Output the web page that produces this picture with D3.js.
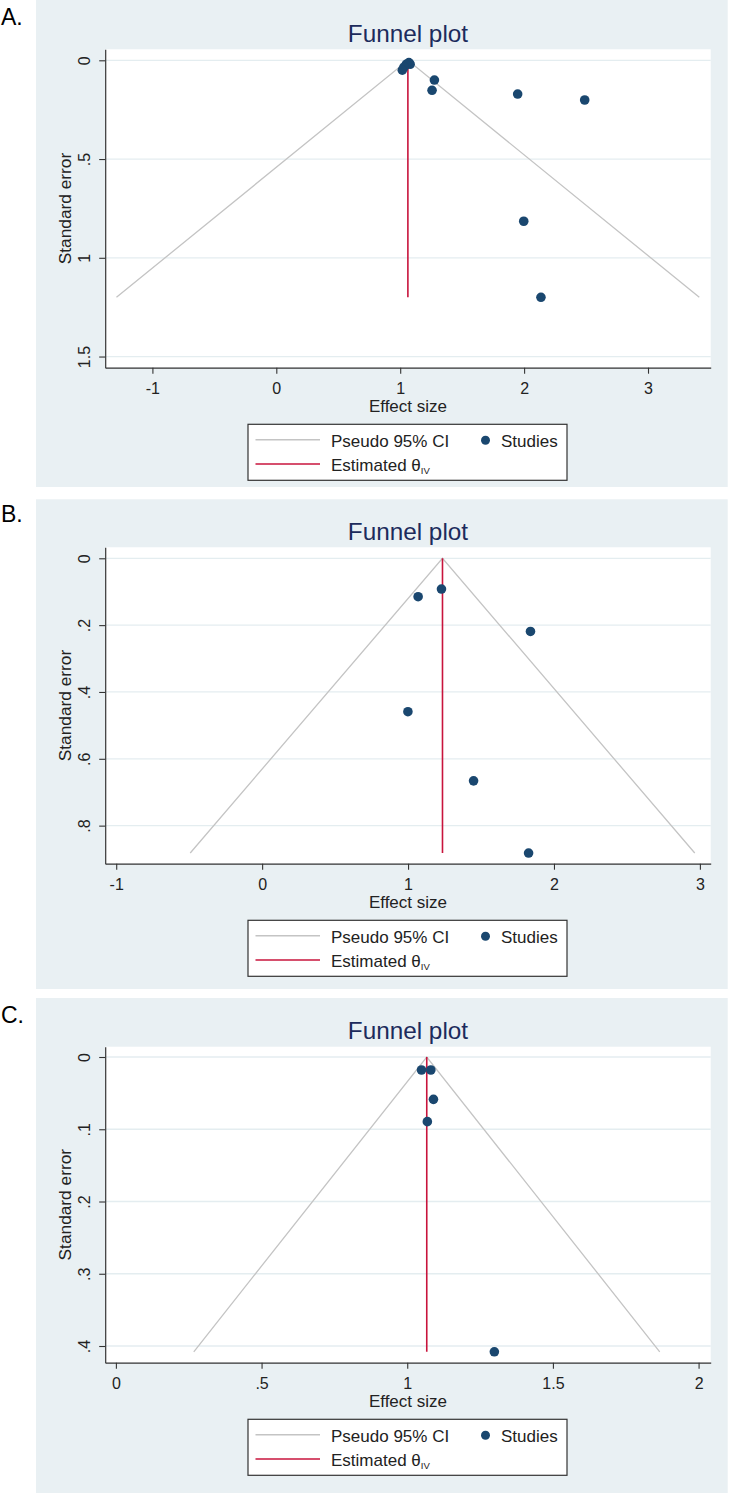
<!DOCTYPE html>
<html>
<head>
<meta charset="utf-8">
<script src="https://cdn.jsdelivr.net/npm/d3@7"></script>
<style>
  html, body { margin: 0; padding: 0; background: #ffffff; }
  svg { display: block; font-family: "Liberation Sans", Arial, sans-serif; }
</style>
</head>
<body>
<svg id="chart" width="729" height="1493"></svg>
<script>
// ---------------- data ----------------
const panelLetters = ["A.", "B.", "C."];
const chartTitle = "Funnel plot";
const xAxisTitle = "Effect size";
const yAxisTitle = "Standard error";
const legendCI = "Pseudo 95% CI";
const legendStudies = "Studies";
const legendTheta = "Estimated θ";
const legendThetaSub = "IV";

// Panel A
const esA = [1.07, 1.08, 1.05, 1.03, 1.017, 1.276, 1.257, 1.948, 2.489, 1.997, 2.136];
const seA = [0.012, 0.02, 0.02, 0.035, 0.05, 0.10, 0.152, 0.171, 0.201, 0.815, 1.20];
const thetaA = 1.062;
const seMaxA = 1.2;
const xTicksA = [-1, 0, 1, 2, 3];
const yTicksA = [0, 0.5, 1, 1.5];
const xRangeA = [-1.381, 3.506];
const yRangeA = [-0.0557, 1.5565];

// Panel B
const esB = [1.229, 1.069, 1.839, 0.999, 1.449, 1.826];
const seB = [0.092, 0.115, 0.219, 0.459, 0.666, 0.882];
const thetaB = 1.236;
const seMaxB = 0.882;
const xTicksB = [-1, 0, 1, 2, 3];
const yTicksB = [0, 0.2, 0.4, 0.6, 0.8];
const xRangeB = [-1.0755, 3.0741];
const yRangeB = [-0.0329, 0.9139];

// Panel C
const esC = [1.049, 1.081, 1.090, 1.069, 1.299];
const seC = [0.018, 0.018, 0.0586, 0.0895, 0.408];
const thetaC = 1.067;
const seMaxC = 0.408;
const xTicksC = [0, 0.5, 1, 1.5, 2];
const yTicksC = [0, 0.1, 0.2, 0.3, 0.4];
const xRangeC = [-0.0367, 2.0416];
const yRangeC = [-0.01426, 0.4231];

const z = 1.96;

// ---------------- layout / style ----------------
const layouts = [
  { bgTop: 0,     bgBottom: 487,  plotTop: 49.3,   plotBottom: 367.7,  letterY: 25 },
  { bgTop: 499.3, bgBottom: 989,  plotTop: 547.3,  plotBottom: 863.7,  letterY: 522 },
  { bgTop: 998,   bgBottom: 1493, plotTop: 1046.7, plotBottom: 1362.7, letterY: 1023 }
];
const plotLeft = 105.2, plotRight = 710.7;
const bgLeft = 36, bgRight = 727.7;

const colBg = "#e9f0f3";
const colGrid = "#e4edf0";
const colTitle = "#1c2b5c";
const colDot = "#1a476f";
const colRed = "#c8143c";
const colCI = "#c4c4c4";
const colAxis = "#333333";
const colText = "#222222";

const panels = [
  { es: esA, se: seA, theta: thetaA, seMax: seMaxA, xTicks: xTicksA, yTicks: yTicksA, xRange: xRangeA, yRange: yRangeA },
  { es: esB, se: seB, theta: thetaB, seMax: seMaxB, xTicks: xTicksB, yTicks: yTicksB, xRange: xRangeB, yRange: yRangeB },
  { es: esC, se: seC, theta: thetaC, seMax: seMaxC, xTicks: xTicksC, yTicks: yTicksC, xRange: xRangeC, yRange: yRangeC }
];

function fmt(v) {
  if (v === 0) return "0";
  let s = String(+v.toFixed(3));
  if (s.startsWith("0.")) s = s.slice(1);
  else if (s.startsWith("-0.")) s = "-" + s.slice(2);
  return s;
}

const svg = d3.select("#chart");

panels.forEach((p, i) => {
  const L = layouts[i];
  const g = svg.append("g");

  // panel background
  g.append("rect")
    .attr("x", bgLeft).attr("y", L.bgTop)
    .attr("width", bgRight - bgLeft).attr("height", L.bgBottom - L.bgTop)
    .attr("fill", colBg);

  // panel letter
  g.append("text")
    .attr("x", 1).attr("y", L.letterY)
    .attr("font-size", 23).attr("fill", "#000")
    .text(panelLetters[i]);

  const x = d3.scaleLinear().domain(p.xRange).range([plotLeft, plotRight]);
  const y = d3.scaleLinear().domain(p.yRange).range([L.plotTop, L.plotBottom]);

  // plot area
  g.append("rect")
    .attr("x", plotLeft).attr("y", L.plotTop)
    .attr("width", plotRight - plotLeft).attr("height", L.plotBottom - L.plotTop)
    .attr("fill", "#ffffff");

  // gridlines
  g.append("g").selectAll("line").data(p.yTicks).join("line")
    .attr("x1", plotLeft).attr("x2", plotRight)
    .attr("y1", d => y(d)).attr("y2", d => y(d))
    .attr("stroke", colGrid).attr("stroke-width", 1.3);

  // title
  g.append("text")
    .attr("x", (plotLeft + plotRight) / 2).attr("y", L.plotTop - 7.8)
    .attr("text-anchor", "middle").attr("font-size", 24.3).attr("fill", colTitle)
    .text(chartTitle);

  // pseudo CI funnel
  const funnel = [[p.theta - z * p.seMax, p.seMax], [p.theta, 0], [p.theta + z * p.seMax, p.seMax]];
  g.append("path")
    .attr("d", d3.line().x(d => x(d[0])).y(d => y(d[1]))(funnel))
    .attr("fill", "none").attr("stroke", colCI).attr("stroke-width", 1.3);

  // estimated theta line
  g.append("path")
    .attr("d", d3.line().x(d => x(d[0])).y(d => y(d[1]))([[p.theta, 0], [p.theta, p.seMax]]))
    .attr("fill", "none").attr("stroke", colRed).attr("stroke-width", 1.6);

  // studies
  g.append("g").selectAll("circle").data(p.es.map((e, k) => [e, p.se[k]])).join("circle")
    .attr("cx", d => x(d[0])).attr("cy", d => y(d[1])).attr("r", 4.8)
    .attr("fill", colDot);

  // x axis
  const xAxis = g.append("g")
    .attr("transform", `translate(0,${L.plotBottom})`)
    .call(d3.axisBottom(x).tickValues(p.xTicks).tickFormat(fmt).tickSize(6).tickSizeOuter(0));
  xAxis.select(".domain").attr("stroke", colAxis).attr("stroke-width", 1.2);
  xAxis.selectAll(".tick line").attr("stroke", colAxis).attr("stroke-width", 1.1);
  xAxis.selectAll(".tick text")
    .attr("font-family", '"Liberation Sans", Arial, sans-serif')
    .attr("font-size", 16).attr("fill", colText)
    .attr("y", 0).attr("dy", 0)
    .attr("transform", "translate(0,26.5)");

  // y axis
  const yAxis = g.append("g")
    .attr("transform", `translate(${plotLeft},0)`)
    .call(d3.axisLeft(y).tickValues(p.yTicks).tickFormat(fmt).tickSize(6).tickSizeOuter(0));
  yAxis.select(".domain").attr("stroke", colAxis).attr("stroke-width", 1.2);
  yAxis.selectAll(".tick line").attr("stroke", colAxis).attr("stroke-width", 1.1);
  yAxis.selectAll(".tick text")
    .attr("font-family", '"Liberation Sans", Arial, sans-serif')
    .attr("font-size", 16).attr("fill", colText)
    .attr("x", 0).attr("dy", 0).attr("text-anchor", "middle")
    .attr("transform", "translate(-15,0) rotate(-90)");

  // axis titles
  g.append("text")
    .attr("x", (plotLeft + plotRight) / 2).attr("y", L.plotBottom + 44.3)
    .attr("text-anchor", "middle").attr("font-size", 17).attr("fill", colText)
    .text(xAxisTitle);
  g.append("text")
    .attr("transform", `translate(71,${(L.plotTop + L.plotBottom) / 2}) rotate(-90)`)
    .attr("text-anchor", "middle").attr("font-size", 17.3).attr("fill", colText)
    .text(yAxisTitle);

  // legend
  const bx = 248, bw = 319, bt = L.plotBottom + 56.6, bh = 56;
  const lg = g.append("g");
  lg.append("rect")
    .attr("x", bx).attr("y", bt).attr("width", bw).attr("height", bh)
    .attr("fill", "#ffffff").attr("stroke", colAxis).attr("stroke-width", 1.2);
  lg.append("line")
    .attr("x1", bx + 7.5).attr("x2", bx + 72).attr("y1", bt + 15.5).attr("y2", bt + 15.5)
    .attr("stroke", colCI).attr("stroke-width", 1.5);
  lg.append("text")
    .attr("x", bx + 83).attr("y", bt + 22.3)
    .attr("font-size", 17).attr("fill", colText).text(legendCI);
  lg.append("circle")
    .attr("cx", bx + 237.5).attr("cy", bt + 16).attr("r", 4.5).attr("fill", colDot);
  lg.append("text")
    .attr("x", bx + 253).attr("y", bt + 22.3)
    .attr("font-size", 17).attr("fill", colText).text(legendStudies);
  lg.append("line")
    .attr("x1", bx + 7.5).attr("x2", bx + 72).attr("y1", bt + 39.7).attr("y2", bt + 39.7)
    .attr("stroke", colRed).attr("stroke-width", 1.6);
  const t2 = lg.append("text")
    .attr("x", bx + 83).attr("y", bt + 46.2)
    .attr("font-size", 17).attr("fill", colText);
  t2.append("tspan").text(legendTheta);
  t2.append("tspan").attr("font-size", 9.5).attr("dy", 3).text(legendThetaSub);
});
</script>
</body>
</html>
